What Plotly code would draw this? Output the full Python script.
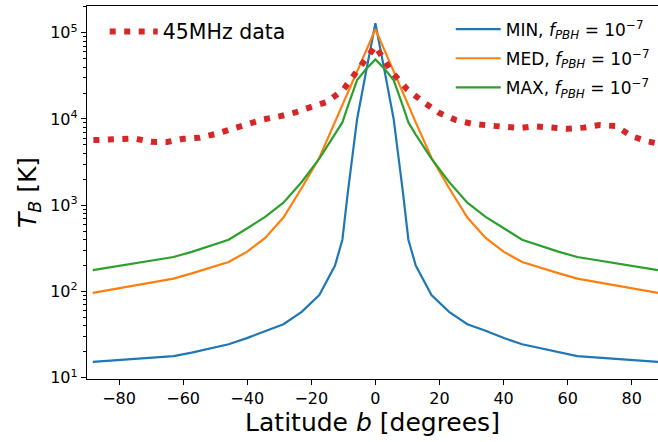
import numpy as np
import plotly.graph_objects as go

# model latitudes (positive half, curves are symmetric about b=0)
b_half = [0, 2.9, 5.7, 8.6, 10.3, 12.6, 17.5, 23.0, 28.7, 34.4, 40.1, 45.8, 57.3, 63.0, 88.2]
t_min_half = [129000, 35500, 10000, 1410, 398, 200, 91, 58, 41.7, 35, 28.8, 24.4, 19.5, 17.8, 15.3]
t_med_half = [110000, 61700, 35500, 19950, 14450, 9120, 3550, 1585, 720, 417, 288, 220, 162, 141, 96.4]
t_max_half = [49000, 38000, 28200, 14100, 9120, 6600, 3470, 1860, 1070, 733, 537, 398, 288, 251, 177]

# 45 MHz survey profile
b_data = [-88, -85, -80, -75, -70, -65, -60, -55, -50, -45, -40, -35, -30, -25, -20, -15, -10, -5, 0,
          5, 10, 15, 20, 25, 30, 35, 40, 45, 50, 55, 60, 65, 70, 75, 80, 85, 88]
t_data = [5690, 5750, 5890, 5920, 5430, 5410, 5890, 6050, 6680, 7590, 8610, 9890, 10700, 11900, 13800,
          15800, 21900, 38000, 70000,
          35500, 21900, 15700, 11700, 9770, 8830, 8430, 8050, 7850, 8220, 8070, 7690, 7940, 8510, 8280,
          6310, 5500, 5190]

x_ticks = [-80, -60, -40, -20, 0, 20, 40, 60, 80]
y_ticks = [10, 100, 1000, 10000, 100000]
y_ticktext = ["10<sup>1</sup>", "10<sup>2</sup>", "10<sup>3</sup>", "10<sup>4</sup>", "10<sup>5</sup>"]


def mirror(b, t):
    b = np.array(b)
    t = np.array(t)
    return np.concatenate([-b[:0:-1], b]), np.concatenate([t[:0:-1], t])


fig = go.Figure()

labels = ["MIN", "MED", "MAX"]
colors = ["#1f77b4", "#ff7f0e", "#2ca02c"]
for lab, col, t in zip(labels, colors, [t_min_half, t_med_half, t_max_half]):
    bx, ty = mirror(b_half, t)
    fig.add_trace(go.Scatter(
        x=bx, y=ty, mode="lines",
        line=dict(color=col, width=2.2),
        name=f"{lab}, <i>f</i><sub><i>PBH</i></sub> = 10<sup>−7</sup>",
        legend="legend2", legendgroup=lab, showlegend=True,
    ))

fig.add_trace(go.Scatter(
    x=b_data, y=t_data, mode="lines",
    line=dict(color="#d62728", width=6, dash="6px,8.5px"),
    name="45MHz data",
    legend="legend", showlegend=True,
))

axis_common = dict(
    showline=True, linecolor="black", linewidth=1.3, mirror=True,
    ticks="outside", ticklen=5, tickwidth=1.2, tickcolor="black",
    showgrid=False, zeroline=False, automargin=False,
    tickfont=dict(size=16, color="black"),
)

fig.update_layout(
    width=658, height=442,
    margin=dict(l=87, r=0, t=6, b=63),
    plot_bgcolor="white", paper_bgcolor="white",
    font=dict(family="DejaVu Sans", color="black"),
    showlegend=True,
    xaxis=dict(range=[-90, 88.2], tickvals=x_ticks,
               ticktext=[str(v).replace("-", "−") for v in x_ticks],
               title=dict(text="Latitude <i>b</i> [degrees]", font=dict(size=25), standoff=5),
               **axis_common),
    yaxis=dict(type="log", range=[0.985, 5.31], tickvals=y_ticks, ticktext=y_ticktext,
               minor=dict(ticks="outside", ticklen=3, tickwidth=1, tickcolor="black", dtick="D1"),
               title=dict(text="<i>T</i><sub><i>B</i></sub> [K]", font=dict(size=25), standoff=6),
               **axis_common),
    legend=dict(x=0.031, y=0.985, xanchor="left", yanchor="top", bgcolor="rgba(0,0,0,0)",
                font=dict(size=20.5), itemwidth=48),
    legend2=dict(x=0.637, y=0.985, xanchor="left", yanchor="top", bgcolor="rgba(0,0,0,0)",
                 font=dict(size=17), tracegroupgap=4, itemwidth=45),
)

fig.write_html("out.html", post_script="document.body.style.margin='0';",
               config={"displayModeBar": False})
